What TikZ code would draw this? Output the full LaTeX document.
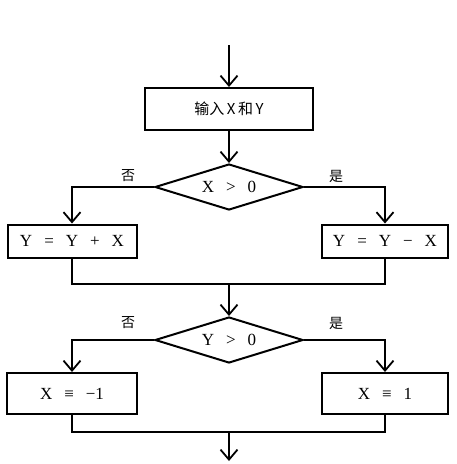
\documentclass[tikz,border=0pt]{standalone}
\usepackage{fontspec}
\setmainfont{Liberation Serif}
\newfontfamily\cjk{Noto Sans CJK SC}
\usetikzlibrary{arrows.meta,positioning,shapes.geometric}
\newcommand\gap{\hspace{12pt}}

\begin{document}
\begin{tikzpicture}[x=1pt, y=-1pt,
    box/.style={draw, line width=2pt, inner sep=0pt, font=\fontsize{17}{19}\selectfont},
    decision/.style={draw, diamond, aspect=3.2, line width=2pt, inner sep=0pt, minimum width=148pt, minimum height=46pt, font=\fontsize{17}{19}\selectfont},
    flow/.style={line width=2pt, -{Straight Barb[length=10pt, width=17pt, line width=1.8pt]}},
    link/.style={line width=2pt},
    tag/.style={font=\cjk\fontsize{14}{16}\selectfont}
  ]
  \useasboundingbox (0,0) rectangle (456,464);

  % input and first test
  \coordinate (start) at (229,45);
  \node[box, minimum width=168pt, minimum height=42pt] (input) at (229,109) {\cjk\fontsize{15}{17}\selectfont 输入\,X\,和\,Y};
  \node[decision] (testx) at (229,187) {X\gap>\gap0};
  \node[box, minimum width=129pt, minimum height=33pt] (addx) at (72,241) {Y\gap=\gap Y\gap+\gap X};
  \node[box, minimum width=126pt, minimum height=33pt] (subx) at (385,241) {Y\gap=\gap Y\gap−\gap X};
  \node[tag] (nox) at (128,176) {否};
  \node[tag] (yesx) at (336,176) {是};

  \draw[flow] (start) -- (input.north);
  \draw[flow] (input.south) -- (testx.north);
  \draw[flow] (testx.west) -| (addx.north);
  \draw[flow] (testx.east) -| (subx.north);

  % second test
  \coordinate (joinx) at (229,284);
  \node[decision] (testy) at (229,340) {Y\gap>\gap0};
  \node[box, minimum width=130pt, minimum height=41pt] (negx) at (72,393.5) {X\gap≡\gap−1};
  \node[box, minimum width=126pt, minimum height=41pt] (posx) at (385,393.5) {X\gap≡\gap1};
  \node[tag] (noy) at (128,323) {否};
  \node[tag] (yesy) at (336,323) {是};

  \draw[link] (addx.south) |- (joinx) -| (subx.south);
  \draw[flow] (joinx) -- (testy.north);
  \draw[flow] (testy.west) -| (negx.north);
  \draw[flow] (testy.east) -| (posx.north);

  \coordinate (joiny) at (229,432);
  \coordinate (stop) at (229,461);
  \draw[link] (negx.south) |- (joiny) -| (posx.south);
  \draw[flow] (joiny) -- (stop);
\end{tikzpicture}
\end{document}
